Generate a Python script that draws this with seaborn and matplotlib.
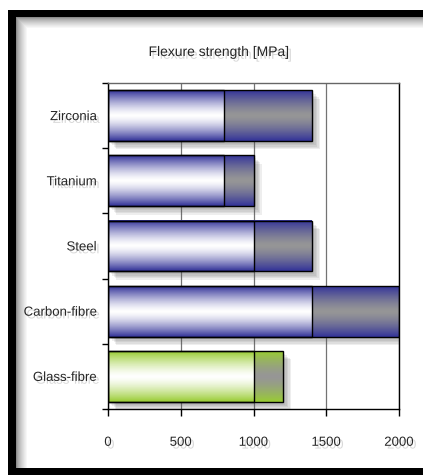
import numpy as np
import matplotlib
matplotlib.use('Agg')
import matplotlib.pyplot as plt
import matplotlib.patheffects as pe
from matplotlib.patches import Rectangle
import seaborn as sns

# data
materials = ['Zirconia', 'Titanium', 'Steel', 'Carbon-fibre', 'Glass-fibre']
low_strength = [800, 800, 1000, 1400, 1000]
high_strength = [1400, 1000, 1400, 2000, 1200]
x_ticks = [0, 500, 1000, 1500, 2000]
title = 'Flexure strength [MPa]'

blue = np.array([51, 51, 153]) / 255
green = np.array([153, 204, 51]) / 255
grey = np.array([150, 150, 150]) / 255
white = np.array([1.0, 1.0, 1.0])
edge_colors = [blue, blue, blue, blue, green]

sns.set_style('white')
plt.rcParams['font.family'] = ['Liberation Sans', 'DejaVu Sans']

W, H = 423, 475
fig = plt.figure(figsize=(W / 100, H / 100), dpi=100)

# background frame with inner shadow
bg = fig.add_axes([0, 0, 1, 1])
img = np.ones((H, W, 3))
for i in range(12):
    v = 0.55 + 0.45 * (i / 11) ** 0.7
    img[17 + i, 16 + i:] = np.minimum(img[17 + i, 16 + i:], v)
    img[17 + i:468, 16 + i] = np.minimum(img[17 + i:468, 16 + i], v)
img[10:17, 8:] = 0
img[468:, 8:] = 0
img[10:, 8:16] = 0
bg.imshow(img, aspect='auto', interpolation='nearest')
bg.axis('off')

ax = fig.add_axes([108 / W, 1 - 409 / H, (399 - 108) / W, (409 - 83) / H])
ax.set_facecolor('none')

sns.barplot(x=high_strength, y=materials, orient='h', width=0.78, color='0.5', ax=ax)
sns.barplot(x=low_strength, y=materials, orient='h', width=0.78, color='0.9', ax=ax)

shadow = [pe.SimplePatchShadow(offset=(o, -o), shadow_rgbFace='0.35', alpha=0.1) for o in (2, 3, 4, 5, 6)]
prof = np.abs(np.linspace(-1, 1, 80)) ** 1.4

n = len(materials)
for k, p in enumerate(ax.patches):
    idx = k % n
    x0, y0, w, h = p.get_x(), p.get_y(), p.get_width(), p.get_height()
    center = grey if k < n else white
    col = center[None, :] * (1 - prof[:, None]) + edge_colors[idx][None, :] * prof[:, None]
    ax.imshow(col[:, None, :], extent=(x0, x0 + w, y0 + h, y0), aspect='auto',
              interpolation='bilinear', zorder=2)
    if k < n:
        sh = Rectangle((x0, y0), w, h, facecolor='none', edgecolor='none', zorder=1,
                       path_effects=shadow)
        ax.add_patch(sh)
    p.set_facecolor('none')
    p.set_edgecolor('black')
    p.set_linewidth(1)
    p.set_zorder(3)

ax.set_xlim(0, 2000)
ax.set_ylim(n - 0.5, -0.5)
ax.set_xticks(x_ticks)
ax.set_xticklabels([str(t) for t in x_ticks])
ax.xaxis.grid(True, color='0.45', linewidth=0.9, zorder=0.5)
ax.set_axisbelow(True)
ax.set_xlabel('')
ax.set_ylabel('')

ax.set_yticks(np.arange(-0.5, n, 1.0), minor=True)
ax.tick_params(axis='y', which='major', length=0, pad=8, labelsize=9.5)
ax.tick_params(axis='y', which='minor', left=True, length=4, width=1, color='black')
ax.tick_params(axis='x', which='major', bottom=True, length=5, width=1, color='black',
               pad=15, labelsize=9.5)

for side in ['left', 'bottom', 'right']:
    ax.spines[side].set_color('black')
    ax.spines[side].set_linewidth(1)
ax.spines['top'].set_color('0.4')
ax.spines['top'].set_linewidth(1)

txt_fx = [pe.SimplePatchShadow(offset=(2, -2), shadow_rgbFace='0.5', alpha=0.3), pe.Normal()]
for lab in ax.get_xticklabels() + ax.get_yticklabels():
    lab.set_path_effects(txt_fx)

fig.text(219 / W, 1 - 52 / H, title, ha='center', va='center', fontsize=10,
         path_effects=txt_fx)

fig.savefig('out.png', dpi=100)
